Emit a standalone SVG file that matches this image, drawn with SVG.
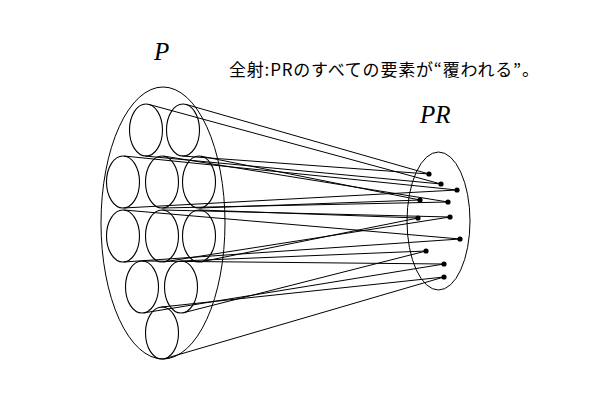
<svg xmlns="http://www.w3.org/2000/svg" width="600" height="400" viewBox="0 0 600 400">
<style>
.set{fill:none;stroke:#000;stroke-width:1}
.el{fill:none;stroke:#000;stroke-width:1.1}
.ln{stroke:#000;stroke-width:1;fill:none}
.dot{fill:#000}
.lbl{font-family:"Liberation Serif",serif;font-style:italic;font-size:25px;fill:#000}
.cap{font-family:"Noto Sans CJK JP",sans-serif;font-size:17px;letter-spacing:0.8px;fill:#000}
</style>
<rect width="600" height="400" fill="#fff"/>
<g id="labels">
<text class="lbl" x="154" y="60">P</text>
<text class="lbl" x="420" y="123">PR</text>
<text class="cap" x="229" y="76">全射:PRのすべての要素が“覆われる”。</text>
</g>
<g id="set-P"><ellipse class="set" cx="163" cy="223" rx="62" ry="136"/></g>
<g id="set-PR"><ellipse class="set" cx="438.5" cy="221" rx="31.5" ry="69"/></g>
<g id="elements-P">
<ellipse id="A" class="el" cx="146" cy="130" rx="16.5" ry="26"/>
<ellipse id="B" class="el" cx="183" cy="130" rx="16.5" ry="26"/>
<ellipse id="C" class="el" cx="123" cy="182" rx="16.5" ry="26"/>
<ellipse id="D" class="el" cx="162" cy="182" rx="16.5" ry="26"/>
<ellipse id="E" class="el" cx="199" cy="182" rx="16.5" ry="26"/>
<ellipse id="F" class="el" cx="123" cy="236" rx="16.5" ry="26"/>
<ellipse id="G" class="el" cx="162" cy="236" rx="16.5" ry="26"/>
<ellipse id="H" class="el" cx="199" cy="236" rx="16.5" ry="26"/>
<ellipse id="I" class="el" cx="142" cy="287" rx="16.5" ry="26"/>
<ellipse id="J" class="el" cx="181" cy="287" rx="16.5" ry="26"/>
<ellipse id="K" class="el" cx="162" cy="333" rx="16.5" ry="26"/>
</g>
<g id="elements-PR">
<circle class="dot" cx="429" cy="174" r="2.6"/>
<circle class="dot" cx="441" cy="184" r="2.6"/>
<circle class="dot" cx="457" cy="190" r="2.6"/>
<circle class="dot" cx="420" cy="200" r="2.6"/>
<circle class="dot" cx="448" cy="202" r="2.6"/>
<circle class="dot" cx="418" cy="218" r="2.6"/>
<circle class="dot" cx="450" cy="217" r="2.6"/>
<circle class="dot" cx="460" cy="239" r="2.6"/>
<circle class="dot" cx="426" cy="251" r="2.6"/>
<circle class="dot" cx="444" cy="264" r="2.6"/>
<circle class="dot" cx="444" cy="277" r="2.6"/>
</g>
<g id="connectors">
<path class="ln" d="M148.8,104.4L441,184M145,156L441,184"/>
<path class="ln" d="M185.9,104.4L429,174M182.2,156L429,174"/>
<path class="ln" d="M124.1,156L457,190M123.6,208L457,190"/>
<path class="ln" d="M163.7,156.1L448,202M162.2,208L448,202"/>
<path class="ln" d="M201.1,156.2L420,200M199.4,208L420,200"/>
<path class="ln" d="M123.9,210L460,239M123.7,262L460,239"/>
<path class="ln" d="M162.3,210L450,217M163.6,261.9L450,217"/>
<path class="ln" d="M199.4,210L418,218M201.1,261.8L418,218"/>
<path class="ln" d="M142.1,261L444,264M143.7,312.9L444,264"/>
<path class="ln" d="M180.6,261L426,251M183.6,312.7L426,251"/>
<path class="ln" d="M160.9,307.1L444,277M165,358.6L444,277"/>
</g>
</svg>
